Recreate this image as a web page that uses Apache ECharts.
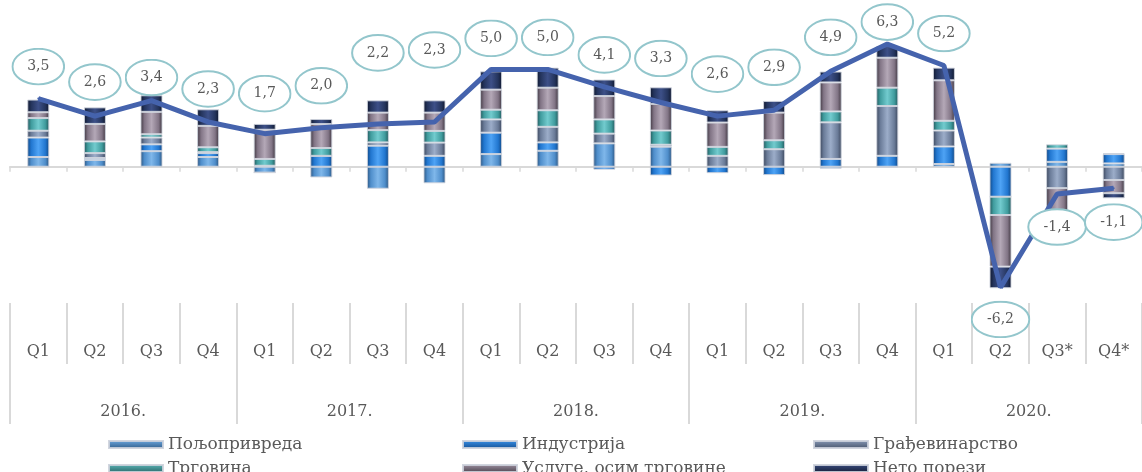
<!DOCTYPE html>
<html>
<head>
<meta charset="utf-8">
<title>Доприноси расту БДП</title>
<script src="https://cdn.jsdelivr.net/npm/echarts@6/dist/echarts.min.js"></script>
<style>
  html, body { margin: 0; padding: 0; background: #fff; }
  #main { width: 1142px; height: 472px; }
</style>
</head>
<body>
<div id="main"></div>
<script>
// категорије
var quarters = ['Q1', 'Q2', 'Q3', 'Q4', 'Q1', 'Q2', 'Q3', 'Q4', 'Q1', 'Q2', 'Q3', 'Q4',
                'Q1', 'Q2', 'Q3', 'Q4', 'Q1', 'Q2', 'Q3*', 'Q4*'];
var years = ['2016.', '2017.', '2018.', '2019.', '2020.'];

// доприноси (п.п.)
var agriculture = [0.5, 0.35, 0.8, 0.5, -0.3, -0.55, -1.13, -0.85, 0.65, 0.82, 1.2, 1.03, 0, 0, -0.1, -0.05, 0.14, 0.2, 0.25, 0.17];
var industry = [1.0, 0.1, 0.35, 0.2, 0, 0.56, 1.08, 0.56, 1.1, 0.43, -0.15, -0.45, -0.33, -0.43, 0.4, 0.56, 0.9, -1.54, 0.68, 0.48];
var construction = [0.35, 0.25, 0.35, 0.05, 0.05, 0, 0.17, 0.68, 0.68, 0.8, 0.5, 0.1, 0.56, 0.9, 1.88, 2.56, 0.82, 0, -1.1, -0.68];
var trade = [0.65, 0.6, 0.17, 0.25, 0.35, 0.4, 0.63, 0.6, 0.5, 0.85, 0.73, 0.73, 0.46, 0.46, 0.56, 0.94, 0.5, -0.94, 0.22, 0.05];
var services = [0.3, 0.9, 1.15, 1.1, 1.5, 1.23, 0.9, 0.94, 1.03, 1.16, 1.2, 1.37, 1.25, 1.42, 1.49, 1.54, 2.08, -2.65, -1.2, -0.68];
var netTaxes = [0.65, 0.85, 0.85, 0.85, 0.3, 0.26, 0.63, 0.63, 0.94, 1.03, 0.85, 0.85, 0.63, 0.6, 0.56, 0.6, 0.65, -1.11, -0.25, -0.26];

// реални раст БДП (%)
var gdp = [3.5, 2.6, 3.4, 2.3, 1.7, 2.0, 2.2, 2.3, 5.0, 5.0, 4.1, 3.3, 2.6, 2.9, 4.9, 6.3, 5.2, -6.2, -1.4, -1.1];

// померај ознака у односу на тачку (px)
var labelDy = [-32, -34, -23, -33, -40, -42, -71, -72, -31, -32, -32, -44, -42, -43, -34, -22, -32, 32, 33, 34];

var FONT = 'DejaVu Serif';
var TXT = '#595959';
var GRID_LINE = '#d9d9d9';

var myChart = echarts.init(document.getElementById('main'), null, { renderer: 'canvas' });

function barFill(edge, mid, hi) {
	return new echarts.graphic.LinearGradient(0, 0, 1, 0, [
		{ offset: 0, color: edge },
		{ offset: 0.18, color: mid },
		{ offset: 0.5, color: hi },
		{ offset: 0.82, color: mid },
		{ offset: 1, color: edge }
	]);
}

function legendFill(light, dark) {
	return new echarts.graphic.LinearGradient(0, 0, 0, 1, [
		{ offset: 0, color: light },
		{ offset: 1, color: dark }
	]);
}

function ellipse(w, h) {
	var svg = "<svg xmlns='http://www.w3.org/2000/svg' width='" + w + "' height='" + h + "' viewBox='0 0 " + w + " " + h + "'>" +
		"<ellipse cx='" + (w / 2) + "' cy='" + (h / 2) + "' rx='" + (w / 2 - 1.2) + "' ry='" + (h / 2 - 1.2) +
		"' fill='#ffffff' stroke='#93c6cc' stroke-width='2'/></svg>";
	return 'data:image/svg+xml;charset=utf-8,' + encodeURIComponent(svg);
}

var comps = [
	{ name: 'Пољопривреда', data: agriculture, edge: '#2b5580', mid: '#4f8ecb', hi: '#7fb7ea', light: '#6eaae2', dark: '#2f5b88' },
	{ name: 'Индустрија', data: industry, edge: '#104784', mid: '#2277d0', hi: '#4ea3f5', light: '#3a92ea', dark: '#144f92' },
	{ name: 'Грађевинарство', data: construction, edge: '#3a455a', mid: '#6a7b98', hi: '#9cadc9', light: '#8a9bb8', dark: '#46536a' },
	{ name: 'Трговина', data: trade, edge: '#215759', mid: '#409c9e', hi: '#72cbce', light: '#5cb6b8', dark: '#2a6668' },
	{ name: 'Услуге, осим трговине', data: services, edge: '#3d353f', mid: '#827586', hi: '#b4a8b7', light: '#a093a4', dark: '#4a414c' },
	{ name: 'Нето порези', data: netTaxes, edge: '#0f172d', mid: '#24345c', hi: '#3d5088', light: '#3a4d80', dark: '#141d36' }
];

var series = comps.map(function(c) {
	return {
		name: c.name,
		type: 'bar',
		stack: 'contrib',
		xAxisIndex: 0,
		barWidth: 22,
		data: c.data,
		itemStyle: {
			color: barFill(c.edge, c.mid, c.hi),
			borderColor: 'rgba(205,210,220,0.9)',
			borderWidth: 1
		},
		emphasis: { disabled: true },
		z: 2
	};
});

var lineData = gdp.map(function(v, i) {
	var w = v < 0 ? 60 : 54;
	var h = 38;
	return {
		value: v,
		label: {
			offset: [0, labelDy[i]],
			width: w,
			height: h,
			lineHeight: h,
			backgroundColor: { image: ellipse(w, h) }
		}
	};
});

series.push({
	name: 'БДП',
	type: 'line',
	xAxisIndex: 0,
	data: lineData,
	symbol: 'circle',
	symbolSize: 2,
	showSymbol: true,
	clip: false,
	lineStyle: { color: '#4563ad', width: 5 },
	itemStyle: { color: '#4563ad' },
	label: {
		show: true,
		position: 'inside',
		formatter: function(p) { return p.value.toFixed(1).replace('.', ','); },
		fontFamily: FONT,
		fontSize: 14,
		color: TXT,
		align: 'center',
		verticalAlign: 'middle'
	},
	emphasis: { disabled: true },
	z: 5
});

// легенда: 3 колоне x 2 реда, свака ставка засебно
var legendCols = [108, 462, 813];
var legendRows = [436, 460];

var legends = comps.map(function(c, i) {
	return {
		orient: 'horizontal',
		left: legendCols[i % 3],
		top: legendRows[Math.floor(i / 3)],
		itemWidth: 54,
		itemHeight: 7,
		selectedMode: false,
		icon: 'rect',
		padding: 0,
		textStyle: { fontFamily: FONT, fontSize: 17, color: TXT },
		data: [{ name: c.name, itemStyle: { color: legendFill(c.light, c.dark) } }]
	};
});

var option = {
	animation: false,
	backgroundColor: '#ffffff',
	grid: { left: 10, right: 0, top: 11, bottom: 169, containLabel: false },
	legend: legends,
	xAxis: [{
		type: 'category',
		data: quarters,
		position: 'bottom',
		axisLine: { show: true, onZero: true, lineStyle: { color: GRID_LINE, width: 2 } },
		axisTick: { show: true, interval: 0, length: 5, lineStyle: { color: GRID_LINE, width: 1.5 } },
		axisLabel: { show: false, interval: 0 },
		splitLine: { show: false }
	}, {
		type: 'category',
		data: quarters,
		position: 'bottom',
		axisLine: { show: false, onZero: false },
		axisTick: { show: true, interval: 0, length: 61, lineStyle: { color: GRID_LINE, width: 2 } },
		axisLabel: { interval: 0, margin: 41, fontFamily: FONT, fontSize: 16, color: TXT },
		splitLine: { show: false }
	}, {
		type: 'category',
		data: years,
		position: 'bottom',
		axisLine: { show: false, onZero: false },
		axisTick: { show: true, interval: 0, length: 121, lineStyle: { color: GRID_LINE, width: 2 } },
		axisLabel: { interval: 0, margin: 101, fontFamily: FONT, fontSize: 16, color: TXT },
		splitLine: { show: false }
	}],
	yAxis: {
		type: 'value',
		min: -7,
		max: 8,
		show: false
	},
	series: series
};

myChart.setOption(option);
</script>
</body>
</html>
